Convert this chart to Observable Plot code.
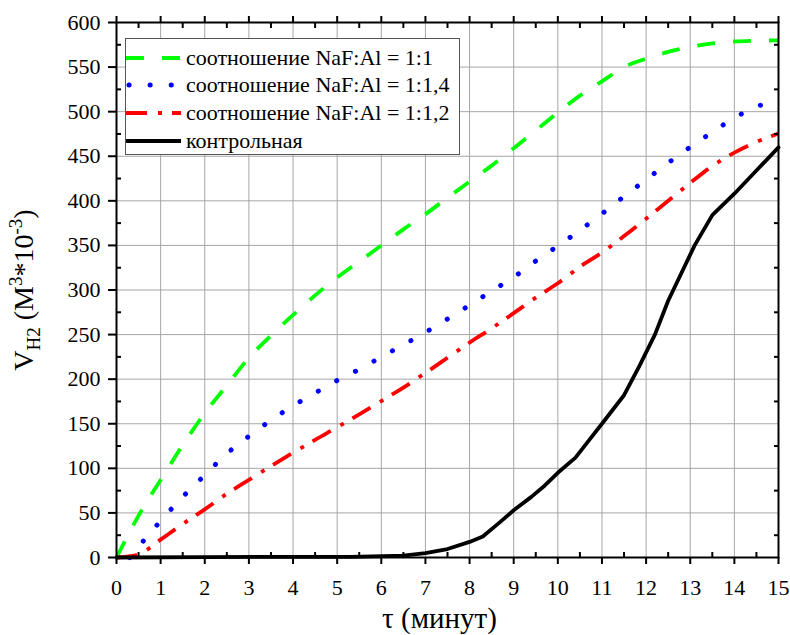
<!DOCTYPE html>
<html><head><meta charset="utf-8">
<script src="https://cdn.jsdelivr.net/npm/d3@7"></script>
<script src="https://cdn.jsdelivr.net/npm/@observablehq/plot@0.6"></script>
<style>
body{margin:0;background:#fff;}
#wrap{position:relative;width:790px;height:635px;}
#legend{position:absolute;left:125px;top:38px;width:335px;height:117px;border:1px solid #555;background:#fff;box-sizing:border-box;font-family:"Liberation Serif","Times New Roman",serif;font-size:22px;color:#000;}
.row{position:absolute;left:0;height:28px;display:flex;align-items:center;white-space:nowrap;}
.row svg{display:block;margin-right:5px;}
svg text{font-family:"Liberation Serif","Times New Roman",serif;}
</style></head><body><div id="wrap"></div>
<script>
// Series: соотношение NaF:Al = 1:1 (green)
const tGreen = [0,0.25,0.5,1,1.5,2,2.5,3,3.5,4,4.5,5,5.5,6,6.5,7,7.5,8,8.5,9,9.5,10,10.5,11,11.5,12,12.5,13,13.5,14,14.5,15];
const vGreen = [0,24,47,87,126,162,193,224,249,272,294,314,332,350,368,385,403.5,421.5,439.5,459,479,499,518,534,550,559.5,567,572.5,576.5,578.7,579.5,580];
// соотношение NaF:Al = 1:1,4 (blue)
const tBlue = [0.3,0.5,1,1.5,2,2.5,3,3.5,4,4.5,5,5.5,6,6.5,7,7.5,8,8.5,9,9.5,10,10.5,11,11.5,12,12.5,13,13.5,14,14.5,15];
const vBlue = [0,12,41,68,92.5,116.5,136,154,170,184.5,198.5,211,225,238.5,252.5,267.5,283,298.8,314.5,332.5,349.5,367,385.5,405,423.7,442.5,460.3,477,493,505.5,513];
// соотношение NaF:Al = 1:1,2 (red)
const tRed = [0,0.4,0.6,1,1.5,2,2.5,3,3.5,4,4.5,5,5.5,6,6.5,7,7.5,8,8.5,9,9.5,10,10.5,11,11.5,12,12.5,13,13.5,14,14.5,15];
const vRed = [0,2,6,20,37.5,54,71.5,87,102.5,117.5,132,146,160.5,175.5,190.5,207,224,241,257,274,291.5,307.5,326,342,360.5,380,400,420,439,454,466,475.5];
// контрольная (black)
const tBlack = [0,2,4,5.3,6.5,7,7.5,8,8.3,8.65,9,9.4,9.7,10,10.4,10.7,11,11.5,11.85,12,12.2,12.5,13.1,13.5,14,14.5,15];
const vBlack = [0,0.5,0.8,0.8,2,5,9.5,17.5,23.5,38,53,68,80.5,95,112,131,150,182,215,230,250,288,350,384,408,434,460];

const seriesNames = ["соотношение NaF:Al = 1:1","соотношение NaF:Al = 1:1,4","соотношение NaF:Al = 1:1,2","контрольная"];
const seriesColors = ["#00ff00","#0000ff","#ff0000","#000000"];
const seriesDash = ["18,18","0.1,21","21,11,4,10",null];
const seriesCaps = ["butt","round","butt","round"];

const xMajor = d3.range(0,16,1);
const xMinor = d3.range(0.5,15,1);
const yMajor = d3.range(0,601,50);
const yMinor = d3.range(25,600,50);

const xTitle = "τ (минут)";
const yTitleParts = [["V",0,false],["H2",1,true],[" (М",0,false],["3",-1,true],["*10",0,false],["-3",-1,true],[")",0,false]];

function rows(t,v,s){return t.map((d,i)=>({t:d,v:v[i],s}));}
const dataSets = [rows(tGreen,vGreen,0),rows(tBlue,vBlue,1),rows(tRed,vRed,2),rows(tBlack,vBlack,3)];

const FONT = "'Liberation Serif', 'Times New Roman', serif";
const tickStyle = {stroke:"black", strokeWidth:2, fill:null, label:null};

const plot = Plot.plot({
  width:790, height:635,
  marginLeft:116, marginRight:12, marginTop:22, marginBottom:78,
  style:{fontFamily:FONT, fontSize:"22px", background:"white", color:"black"},
  x:{domain:[0,15], label:null},
  y:{domain:[0,600], label:null},
  marks:[
    Plot.gridX(xMajor,{stroke:"#a6a6a6", strokeOpacity:1, strokeWidth:1}),
    Plot.gridY(yMajor,{stroke:"#a6a6a6", strokeOpacity:1, strokeWidth:1}),
    ...dataSets.map((d,i)=>Plot.line(d,{x:"t", y:"v", stroke:seriesColors[i], strokeWidth:i===1?5:3.8,
      strokeDasharray:seriesDash[i]||undefined, strokeLinecap:seriesCaps[i], strokeLinejoin:"round",
      curve: i===3 ? "linear" : "monotone-x"})),
    Plot.frame({stroke:"black", strokeWidth:2}),
    Plot.axisX(xMajor,{anchor:"bottom", tickSize:7, tickPadding:15, strokeWidth:2, fontSize:22, label:null}),
    Plot.axisX(xMajor,{anchor:"top", tickSize:7, ...tickStyle}),
    Plot.axisX(xMinor,{anchor:"bottom", tickSize:5, dy:-5, ...tickStyle}),
    Plot.axisX(xMinor,{anchor:"top", tickSize:5, dy:5, ...tickStyle}),
    Plot.axisY(yMajor,{anchor:"left", tickSize:8, tickPadding:8, strokeWidth:2, fontSize:22, label:null}),
    Plot.axisY(yMinor,{anchor:"left", tickSize:5, dx:5, ...tickStyle}),
    Plot.axisY(yMinor,{anchor:"right", tickSize:5, dx:-5, ...tickStyle}),
    Plot.text([xTitle],{frameAnchor:"bottom", dy:70, dx:-8, fontSize:29, fill:"black"}),
    Plot.text(["YTITLE"],{frameAnchor:"left", dx:-92, rotate:-90, fontSize:28, fill:"black", textAnchor:"middle"})
  ]
});
document.getElementById("wrap").appendChild(plot);

// Rebuild y title with sub/superscripts
d3.select(plot).selectAll("text").filter(function(){return this.textContent==="YTITLE";}).each(function(){
  const yt = d3.select(this);
  yt.text(null);
  let cur = 0;
  yTitleParts.forEach(([s,shift,small])=>{
    const off = shift===1?7:shift===-1?-11:0;
    const ts = yt.append("tspan").attr("dy", off-cur).text(s);
    if(small) ts.attr("font-size","19px");
    cur = off;
  });
});

// Legend (inside the plot frame)
const legend = document.createElement("div");
legend.id = "legend";
const rowTops = [5, 32, 60, 88];
seriesNames.forEach((name,i)=>{
  const r = document.createElement("div");
  r.className = "row";
  r.style.top = rowTops[i]+"px";
  const s = d3.create("svg").attr("width",55).attr("height",28);
  s.append("line").attr("x1",i===1?3:0).attr("x2",55).attr("y1",14).attr("y2",14)
    .attr("stroke",seriesColors[i]).attr("stroke-width",i===1?5:4)
    .attr("stroke-dasharray",seriesDash[i]).attr("stroke-linecap",i===1?"round":"butt");
  r.appendChild(s.node());
  const sp = document.createElement("span");
  sp.textContent = name;
  r.appendChild(sp);
  legend.appendChild(r);
});
document.getElementById("wrap").appendChild(legend);
</script>
</body></html>
